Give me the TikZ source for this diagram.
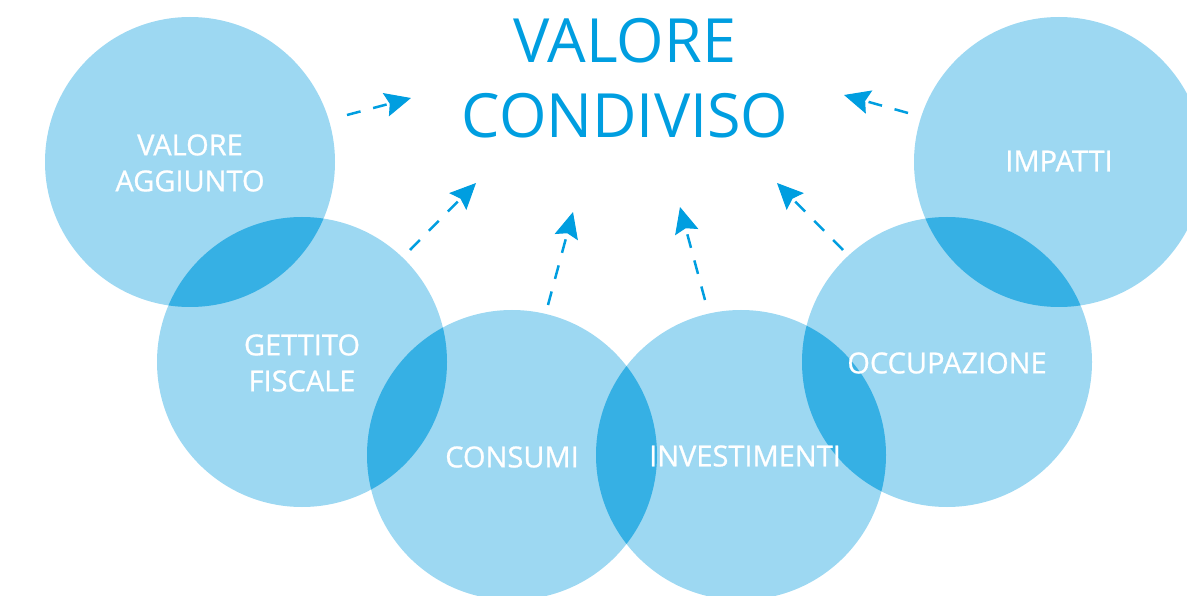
\documentclass[tikz,border=0pt]{standalone}
\usepackage{fontspec}
\setmainfont{Open Sans}
\newfontfamily\labelfont[FakeBold=0.8]{Open Sans}
\usetikzlibrary{arrows.meta}
\definecolor{lightblue}{RGB}{157,216,242}
\definecolor{darkblue}{RGB}{54,176,228}
\definecolor{titleblue}{RGB}{0,158,224}
\begin{document}
\begin{tikzpicture}[x=1pt,y=-1pt]
	\useasboundingbox (0,0) rectangle (1187,596);
	\clip (0,0) rectangle (1187,596);
	\begin{scope}[every node/.style={fill=lightblue, circle, minimum size=290pt, inner sep=0pt}]
		\node (va) at (190 ,162) {};
		\node (gf) at (302 ,362) {};
		\node (co) at (512 ,455) {};
		\node (in) at (741 ,455) {};
		\node (oc) at (947 ,362) {};
		\node (im) at (1059,162) {};
	\end{scope}
	\foreach \a/\b in {va/gf, gf/co, co/in, in/oc, oc/im} {
		\begin{scope}
			\clip (\a.center) circle (145);
			\fill[darkblue] (\b.center) circle (145);
		\end{scope}
	}
	\begin{scope}[every node/.style={text=white, align=center, font=\labelfont\fontsize{29}{36}\selectfont}]
		\node (va-t) at (190 ,163) {VALORE\\AGGIUNTO};
		\node (gf-t) at (302 ,363) {GETTITO\\FISCALE};
		\node (co-t) at (512 ,457) {CONSUMI};
		\node (in-t) at (745 ,456) {INVESTIMENTI};
		\node (oc-t) at (947 ,363) {OCCUPAZIONE};
		\node (im-t) at (1059,161) {IMPATTI};
	\end{scope}
	\node[text=titleblue, align=center, font=\fontsize{61}{75}\selectfont] (title) at (625,78) {VALORE\\CONDIVISO};
	\coordinate (a1s) at (347,115); \coordinate (a1e) at (411,98);
	\coordinate (a2s) at (410,250); \coordinate (a2e) at (476,183);
	\coordinate (a3s) at (548,305); \coordinate (a3e) at (573,212);
	\coordinate (a4s) at (705,300); \coordinate (a4e) at (680,207);
	\coordinate (a5s) at (843,250); \coordinate (a5e) at (777,183);
	\coordinate (a6s) at (908,113); \coordinate (a6e) at (844,95);
	\begin{scope}[every edge/.style={draw=titleblue, line width=2.5pt, dash pattern=on 14pt off 13pt, -{Stealth[length=26pt, width=24pt, inset=4pt, line width=1pt]}}]
		\path (a1s) edge (a1e);
		\path (a2s) edge (a2e);
		\path (a3s) edge (a3e);
		\path (a4s) edge (a4e);
		\path (a5s) edge (a5e);
		\path (a6s) edge (a6e);
	\end{scope}
\end{tikzpicture}
\end{document}
